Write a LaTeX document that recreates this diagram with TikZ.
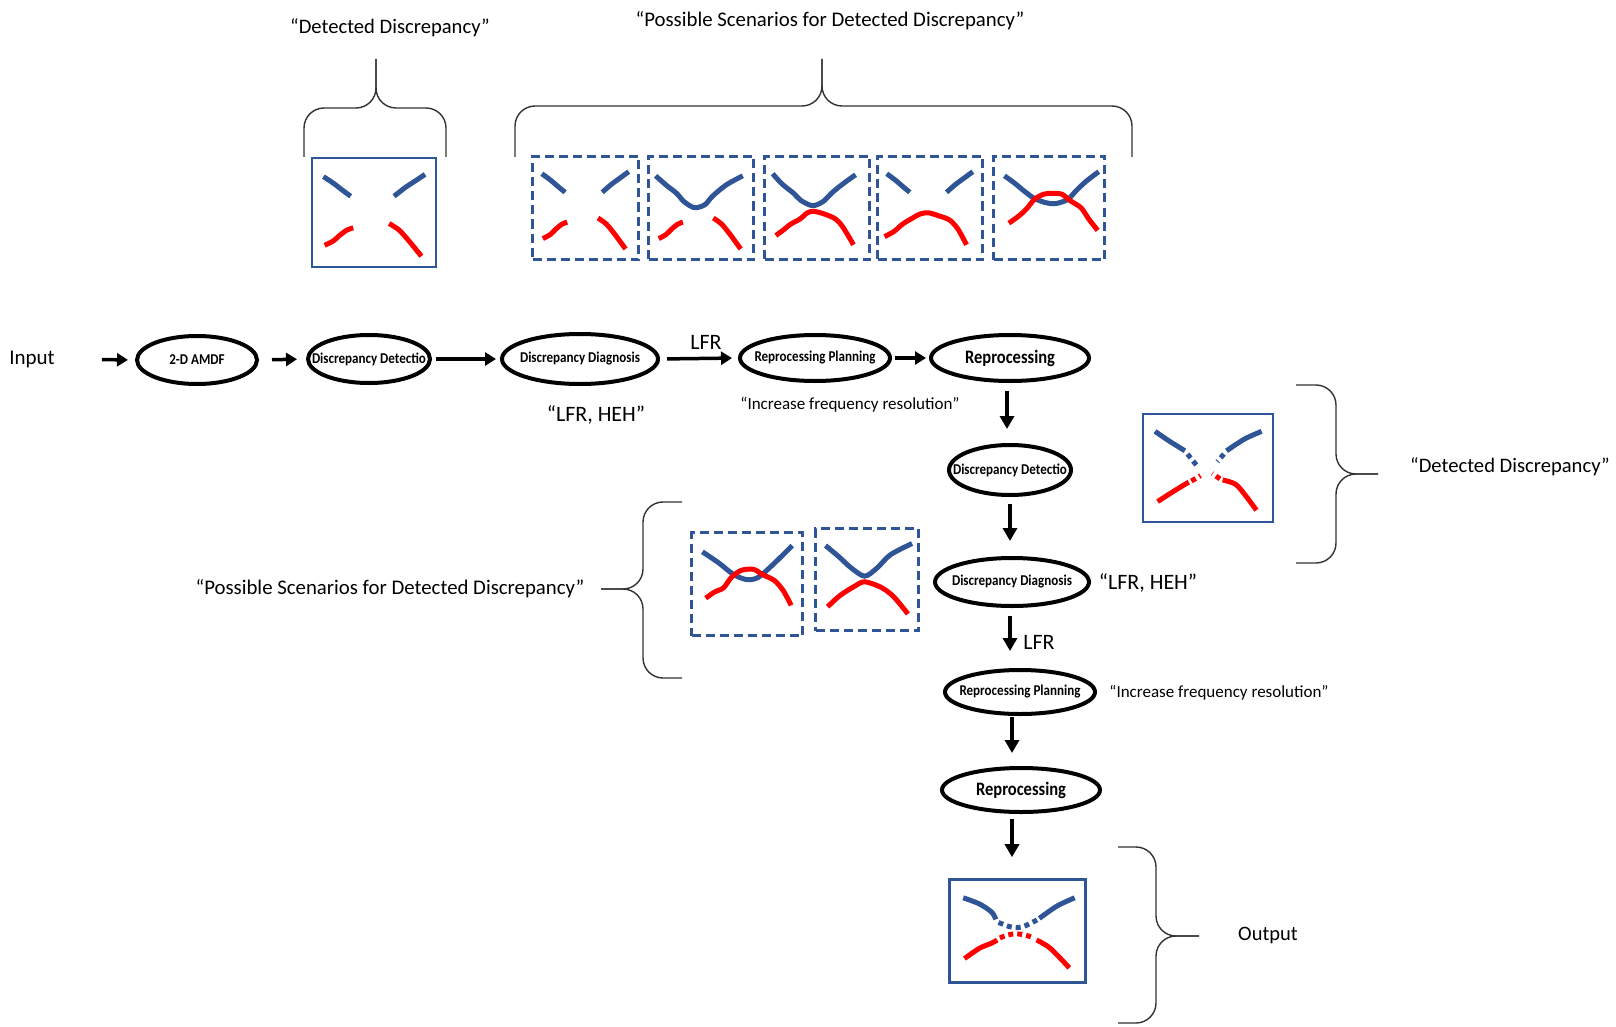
\documentclass[tikz,border=0pt]{standalone}
\usepackage{fontspec}
\setmainfont{Carlito}
\usetikzlibrary{shapes.geometric,arrows.meta}
\definecolor{dzblue}{RGB}{47,85,151}
\definecolor{dzred}{RGB}{255,0,0}
\newcommand\dzcond[1]{\makebox[0pt][c]{\scalebox{0.87}[1]{#1}}}
\newcommand\dzfs[1]{\fontsize{#1}{#1}\selectfont}
% curve sets (normalised box coordinates, y downwards)
\newcommand\dzBgap{%
 \draw[bc] plot[smooth] coordinates {(0.10,0.18) (0.18,0.24) (0.26,0.31) (0.32,0.36)};
 \draw[bc] plot[smooth] coordinates {(0.67,0.36) (0.76,0.28) (0.84,0.22) (0.92,0.16)};}
\newcommand\dzRgap{%
 \draw[rc] plot[smooth] coordinates {(0.11,0.81) (0.18,0.77) (0.23,0.72) (0.29,0.67) (0.34,0.65)};
 \draw[rc] plot[smooth] coordinates {(0.63,0.61) (0.71,0.67) (0.79,0.77) (0.89,0.91)};}
\newcommand\dzBvee{%
 \draw[bc] plot[smooth] coordinates {(0.08,0.20) (0.18,0.29) (0.28,0.37) (0.35,0.45) (0.45,0.51) (0.55,0.48) (0.62,0.40) (0.75,0.29) (0.91,0.20)};}
\newcommand\dzBtouch{%
 \draw[bc] plot[smooth] coordinates {(0.09,0.18) (0.18,0.28) (0.29,0.37) (0.36,0.44) (0.47,0.49) (0.57,0.45) (0.66,0.36) (0.77,0.27) (0.88,0.19)};}
\newcommand\dzRtouch{%
 \draw[rc] plot[smooth] coordinates {(0.12,0.78) (0.20,0.72) (0.26,0.67) (0.35,0.62) (0.42,0.56) (0.48,0.545) (0.58,0.57) (0.69,0.62) (0.76,0.70) (0.86,0.87)};}
\newcommand\dzRarch{%
 \draw[rc] plot[smooth] coordinates {(0.08,0.79) (0.17,0.74) (0.25,0.67) (0.33,0.62) (0.42,0.57) (0.50,0.56) (0.60,0.59) (0.70,0.63) (0.78,0.72) (0.86,0.87)};}
\newcommand\dzBcross{%
 \draw[bc] plot[smooth] coordinates {(0.11,0.20) (0.20,0.27) (0.29,0.35) (0.38,0.42) (0.48,0.46) (0.57,0.47) (0.68,0.43) (0.76,0.34) (0.85,0.25) (0.96,0.16)};}
\newcommand\dzRcross{%
 \draw[rc] plot[smooth] coordinates {(0.15,0.66) (0.24,0.59) (0.31,0.52) (0.38,0.43) (0.46,0.38) (0.55,0.37) (0.63,0.38) (0.70,0.44) (0.80,0.51) (0.87,0.62) (0.95,0.73)};}
\tikzset{
 ell/.style={draw, ellipse, line width=4pt, inner sep=0pt, font=\dzfs{15}\bfseries},
 bigell/.style={ell, font=\dzfs{19}\bfseries},
 arr/.style={line width=3.5pt, -{Triangle[length=11pt,width=13pt]}},
 varr/.style={line width=3.5pt, -{Triangle[length=13pt,width=14pt]}},
 sbox/.style={draw=dzblue, line width=2pt, rectangle, inner sep=0pt},
 dbox/.style={draw=dzblue, line width=2.6pt, dash pattern=on 9pt off 5pt, rectangle, inner sep=0pt},
 bc/.style={draw=dzblue, line width=5pt},
 rc/.style={draw=dzred, line width=5pt},
 bdot/.style={bc, dash pattern=on 5pt off 4pt},
 rdot/.style={rc, dash pattern=on 5pt off 4pt},
 brace/.style={draw=black!80, line width=1.4pt, rounded corners=20pt},
 lbl/.style={inner sep=0pt, font=\dzfs{#1}},
}
\begin{document}
\begin{tikzpicture}[x=1pt,y=-1pt]
\useasboundingbox (0,0) rectangle (1616,1027);
\fill[white] (0,0) rectangle (1616,1027);

% ---------- labels ----------
\node[lbl=20.6] (tdd) at (390,28) {“Detected Discrepancy”};
\node[lbl=20.8] (tps) at (830,21) {“Possible Scenarios for Detected Discrepancy”};
\node[lbl=21] (in) at (32,359) {Input};
\node[lbl=22] (lh1) at (596,415) {“LFR, HEH”};
\node[lbl=22] (lfr1) at (706,342) {LFR};
\node[lbl=17] (ifr1) at (850,405) {“Increase frequency resolution”};
\node[lbl=20.6] (rdd) at (1510,467) {“Detected Discrepancy”};
\node[lbl=20.8] (lps) at (390,589) {“Possible Scenarios for Detected Discrepancy”};
\node[lbl=22] (lh2) at (1148,583) {“LFR, HEH”};
\node[lbl=22] (lfr2) at (1039,642) {LFR};
\node[lbl=17] (ifr2) at (1219,693) {“Increase frequency resolution”};
\node[lbl=20.5] (outl) at (1268,935) {Output};

% ---------- ellipses ----------
\node[ell, minimum width=120pt, minimum height=48pt] (amdf) at (197,360) {\dzcond{2-D AMDF}};
\node[ell, minimum width=122pt, minimum height=48pt] (dd) at (369,359) {\dzcond{Discrepancy Detectio}};
\node[ell, minimum width=156pt, minimum height=50pt] (dg) at (580,359) {\dzcond{Discrepancy Diagnosis}};
\node[ell, minimum width=150pt, minimum height=46pt] (rp) at (815,358) {\dzcond{Reprocessing Planning}};
\node[bigell, minimum width=158pt, minimum height=46pt] (rep) at (1010,358) {\dzcond{Reprocessing}};
\node[ell, minimum width=122pt, minimum height=50pt] (dd2) at (1010,470) {\dzcond{Discrepancy Detectio}};
\node[ell, minimum width=154pt, minimum height=48pt] (dg2) at (1012,582) {\dzcond{Discrepancy Diagnosis}};
\node[ell, minimum width=150pt, minimum height=44pt] (rp2) at (1020,692) {\dzcond{Reprocessing Planning}};
\node[bigell, minimum width=158pt, minimum height=44pt] (rep2) at (1021,790) {\dzcond{Reprocessing}};

% ---------- boxes ----------
\node[sbox, minimum width=124pt, minimum height=109pt] (det1) at (374,212.5) {};
\node[dbox, minimum width=106pt, minimum height=103pt] (s1) at (585.5,208) {};
\node[dbox, minimum width=105pt, minimum height=103pt] (s2) at (701,208) {};
\node[dbox, minimum width=105pt, minimum height=103pt] (s3) at (817,208) {};
\node[dbox, minimum width=105pt, minimum height=103pt] (s4) at (930,208) {};
\node[dbox, minimum width=111pt, minimum height=103pt] (s5) at (1049,208) {};
\node[sbox, minimum width=130pt, minimum height=108pt] (det2) at (1208,468) {};
\node[dbox, minimum width=111pt, minimum height=103pt] (sA) at (747,584) {};
\node[dbox, minimum width=103pt, minimum height=102pt] (sB) at (867,579.5) {};
\node[sbox, line width=2.6pt, minimum width=136pt, minimum height=103pt] (out) at (1017.5,931) {};

% ---------- curves ----------
\begin{scope}[shift={(det1.north west)}, xscale=124, yscale=109] \dzBgap \dzRgap \end{scope}
\begin{scope}[shift={(s1.north west)}, xscale=106, yscale=103] \dzBgap \dzRgap \end{scope}
\begin{scope}[shift={(s2.north west)}, xscale=105, yscale=103] \dzBvee \dzRgap \end{scope}
\begin{scope}[shift={(s3.north west)}, xscale=105, yscale=103] \dzBtouch \dzRtouch \end{scope}
\begin{scope}[shift={(s4.north west)}, xscale=105, yscale=103] \dzBgap \dzRarch \end{scope}
\begin{scope}[shift={(s5.north west)}, xscale=111, yscale=103] \dzBcross \dzRcross \end{scope}
\begin{scope}[shift={(sA.north west)}, xscale=111, yscale=103]
 \draw[bc] plot[smooth] coordinates {(0.11,0.20) (0.26,0.31) (0.39,0.42) (0.51,0.47) (0.61,0.45) (0.73,0.34) (0.92,0.14)};
 \draw[rc] plot[smooth] coordinates {(0.14,0.65) (0.22,0.59) (0.30,0.55) (0.37,0.45) (0.46,0.38) (0.57,0.37) (0.65,0.42) (0.76,0.48) (0.84,0.58) (0.91,0.72)};
\end{scope}
\begin{scope}[shift={(sB.north west)}, xscale=103, yscale=102]
 \draw[bc] plot[smooth] coordinates {(0.11,0.18) (0.24,0.29) (0.36,0.40) (0.49,0.48) (0.61,0.40) (0.74,0.27) (0.95,0.16)};
 \draw[rc] plot[smooth] coordinates {(0.13,0.78) (0.25,0.67) (0.39,0.58) (0.49,0.535) (0.65,0.59) (0.77,0.68) (0.91,0.85)};
\end{scope}
\begin{scope}[shift={(det2.north west)}, xscale=130, yscale=108]
 \draw[bc] plot[smooth] coordinates {(0.10,0.17) (0.21,0.26) (0.33,0.35)};
 \draw[bdot] (0.35,0.38) -- (0.43,0.50);
 \draw[bc] plot[smooth] coordinates {(0.92,0.17) (0.79,0.24) (0.65,0.35)};
 \draw[bdot] (0.63,0.38) -- (0.58,0.45);
 \draw[rc] plot[smooth] coordinates {(0.12,0.82) (0.21,0.75) (0.29,0.69) (0.36,0.64)};
 \draw[rdot] (0.38,0.63) -- (0.45,0.58);
 \draw[rc] plot[smooth] coordinates {(0.88,0.90) (0.80,0.77) (0.72,0.66) (0.62,0.62)};
 \draw[rdot] (0.60,0.61) -- (0.54,0.56);
\end{scope}
\begin{scope}[shift={(out.north west)}, xscale=136, yscale=103]
 \draw[bc] plot[smooth] coordinates {(0.11,0.19) (0.23,0.25) (0.32,0.33) (0.35,0.40)};
 \draw[bdot] plot[smooth] coordinates {(0.37,0.43) (0.45,0.47) (0.51,0.48) (0.57,0.46) (0.66,0.40)};
 \draw[bc] plot[smooth] coordinates {(0.67,0.39) (0.80,0.27) (0.93,0.19)};
 \draw[rc] plot[smooth] coordinates {(0.12,0.78) (0.23,0.68) (0.32,0.63) (0.36,0.60)};
 \draw[rdot] plot[smooth] coordinates {(0.38,0.58) (0.44,0.55) (0.50,0.54) (0.56,0.55) (0.63,0.58)};
 \draw[rc] plot[smooth] coordinates {(0.65,0.60) (0.75,0.68) (0.89,0.87)};
\end{scope}

% ---------- braces ----------
\draw[brace] (304,157) -- (304,108) -- (376,108) -- (376,59);
\draw[brace] (446,157) -- (446,108) -- (376,108) -- (376,59);
\draw[brace] (515,157) -- (515,106) -- (822,106) -- (822,59);
\draw[brace] (1132,157) -- (1132,106) -- (822,106) -- (822,59);
\draw[brace] (1296,385) -- (1336,385) -- (1336,474) -- (1378,474);
\draw[brace] (1296,563) -- (1336,563) -- (1336,474) -- (1378,474);
\draw[brace] (682,502) -- (643,502) -- (643,589) -- (601,589);
\draw[brace] (682,678) -- (643,678) -- (643,589) -- (601,589);
\draw[brace] (1118,847) -- (1156,847) -- (1156,936) -- (1199,936);
\draw[brace] (1118,1023) -- (1156,1023) -- (1156,936) -- (1199,936);

% ---------- arrows ----------
\draw[arr, shorten <=47pt, shorten >=7pt] (in.east) -- (amdf.west);
\draw[arr, shorten <=13pt, shorten >=9pt] (amdf.east) -- (dd.west);
\draw[arr, shorten <=4pt, shorten >=4pt] (dd.east) -- (dg.west);
\draw[arr, shorten <=7pt, shorten >=6pt] (dg.east) -- (rp.west);
\draw[arr, shorten <=3pt, shorten >=3pt] (rp.east) -- (rep.west);
\draw[varr, shorten <=8pt, shorten >=14pt] ([xshift=-3pt]rep.south) -- ([xshift=-3pt]dd2.north);
\draw[varr, shorten <=7pt, shorten >=15pt] (dd2.south) -- ([xshift=-2pt]dg2.north);
\draw[varr, shorten <=8pt, shorten >=17pt] ([xshift=-2pt]dg2.south) -- ([xshift=-10pt]rp2.north);
\draw[varr, shorten <=1pt, shorten >=13pt] ([xshift=-8pt]rp2.south) -- ([xshift=-9pt]rep2.north);
\draw[varr, shorten <=5pt, shorten >=21pt] ([xshift=-9pt]rep2.south) -- ([xshift=-5.5pt]out.north);
\end{tikzpicture}
\end{document}
